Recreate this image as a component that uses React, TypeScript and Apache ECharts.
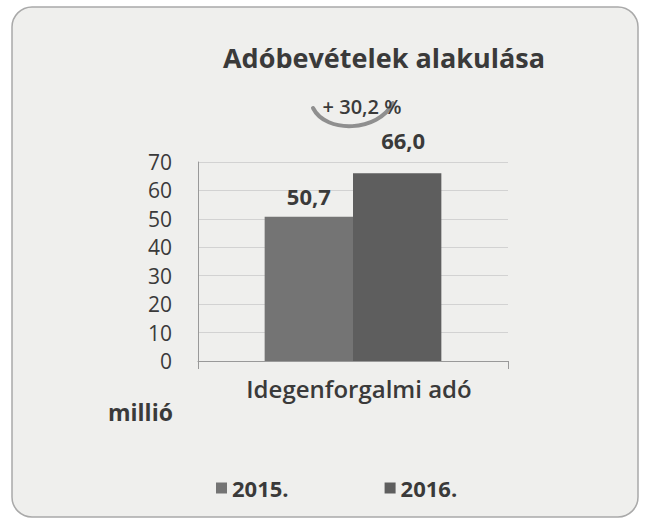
import React, { useEffect, useRef } from "react";
import * as echarts from "echarts";

const categories = ["Idegenforgalmi adó"];
const years = ["2015.", "2016."];
const values2015 = [50.7];
const values2016 = [66.0];
const yTicks = [0, 10, 20, 30, 40, 50, 60, 70];
const changeLabel = "+ 30,2 %";
const unitLabel = "millió";
const titleText = "Adóbevételek alakulása";

const FONT = "'Open Sans', 'Noto Sans', sans-serif";
const TXT = "#3a3a3a";

export default function App() {
  const ref = useRef<HTMLDivElement>(null);
  useEffect(() => {
    const chart = echarts.init(ref.current!, null, { renderer: "svg" });
    const fmt = (v: number) => v.toFixed(1).replace(".", ",");
    chart.setOption({
      animation: false,
      backgroundColor: "#ffffff",
      title: {
        text: titleText,
        left: 379,
        top: 39,
        textAlign: "center",
        textStyle: { fontFamily: FONT, fontSize: 27, fontWeight: 700, color: TXT },
      },
      legend: {
        top: 472,
        left: 211,
        itemGap: 96,
        itemWidth: 11,
        itemHeight: 11,
        icon: "rect",
        data: years,
        textStyle: { fontFamily: FONT, fontSize: 22, fontWeight: 700, color: TXT, padding: [0, 0, 0, 0] },
      },
      grid: { left: 198, right: 137, top: 162, bottom: 160 },
      xAxis: {
        type: "category",
        data: categories,
        axisLine: { lineStyle: { color: "#999", width: 1 } },
        axisTick: { show: true, length: 8, lineStyle: { color: "#999" } },
        axisLabel: { fontFamily: FONT, fontSize: 24, fontWeight: 600, color: TXT, margin: 15, padding: [0, 0, 0, 12] },
      },
      yAxis: {
        type: "value",
        min: 0,
        max: 70,
        interval: 10,
        axisLine: { show: true, lineStyle: { color: "#999" } },
        axisTick: { show: false },
        splitLine: { lineStyle: { color: "#d2d2d2" } },
        axisLabel: {
          fontFamily: FONT,
          fontSize: 21,
          lineHeight: 22,
          color: TXT,
          margin: 26,
          formatter: (v: number) => (yTicks.includes(v) ? String(v) : ""),
        },
      },
      series: [
        {
          name: years[0],
          type: "bar",
          data: values2015,
          barGap: "0%",
          barCategoryGap: "43%",
          itemStyle: { color: "#747474" },
          label: {
            show: true,
            position: "top",
            distance: 10,
            formatter: (p: any) => fmt(p.value),
            fontFamily: FONT,
            fontSize: 22,
            fontWeight: 700,
            color: TXT,
          },
        },
        {
          name: years[1],
          type: "bar",
          data: values2016,
          itemStyle: { color: "#5e5e5e" },
          label: {
            show: true,
            position: "top",
            distance: 22,
            offset: [6, 0],
            formatter: (p: any) => fmt(p.value),
            fontFamily: FONT,
            fontSize: 22,
            fontWeight: 700,
            color: TXT,
          },
        },
      ],
      graphic: [
        {
          type: "rect",
          z: -10,
          silent: true,
          shape: { x: 12, y: 7, width: 626, height: 510, r: 20 },
          style: { fill: "#efefed", stroke: "#a9a9a9", lineWidth: 1.5 },
        },
        {
          type: "bezierCurve",
          shape: { x1: 313, y1: 108, cpx1: 326, cpy1: 134, cpx2: 378, cpy2: 132, x2: 393, y2: 103 },
          style: { stroke: "#8f8f8f", lineWidth: 4, fill: null, lineCap: "round" },
        },
        {
          type: "text",
          x: 362,
          y: 106,
          style: {
            text: changeLabel,
            fontFamily: FONT,
            fontSize: 20,
            fontWeight: 600,
            fill: TXT,
            align: "center",
            verticalAlign: "middle",
          },
        },
        {
          type: "text",
          x: 108,
          y: 412,
          style: {
            text: unitLabel,
            fontFamily: FONT,
            fontSize: 23,
            fontWeight: 700,
            fill: TXT,
            align: "left",
            verticalAlign: "middle",
          },
        },
      ],
    });
    return () => chart.dispose();
  }, []);
  return (
    <div
      ref={ref}
      style={{ position: "fixed", left: 0, top: 0, width: 645, height: 521 }}
    />
  );
}
